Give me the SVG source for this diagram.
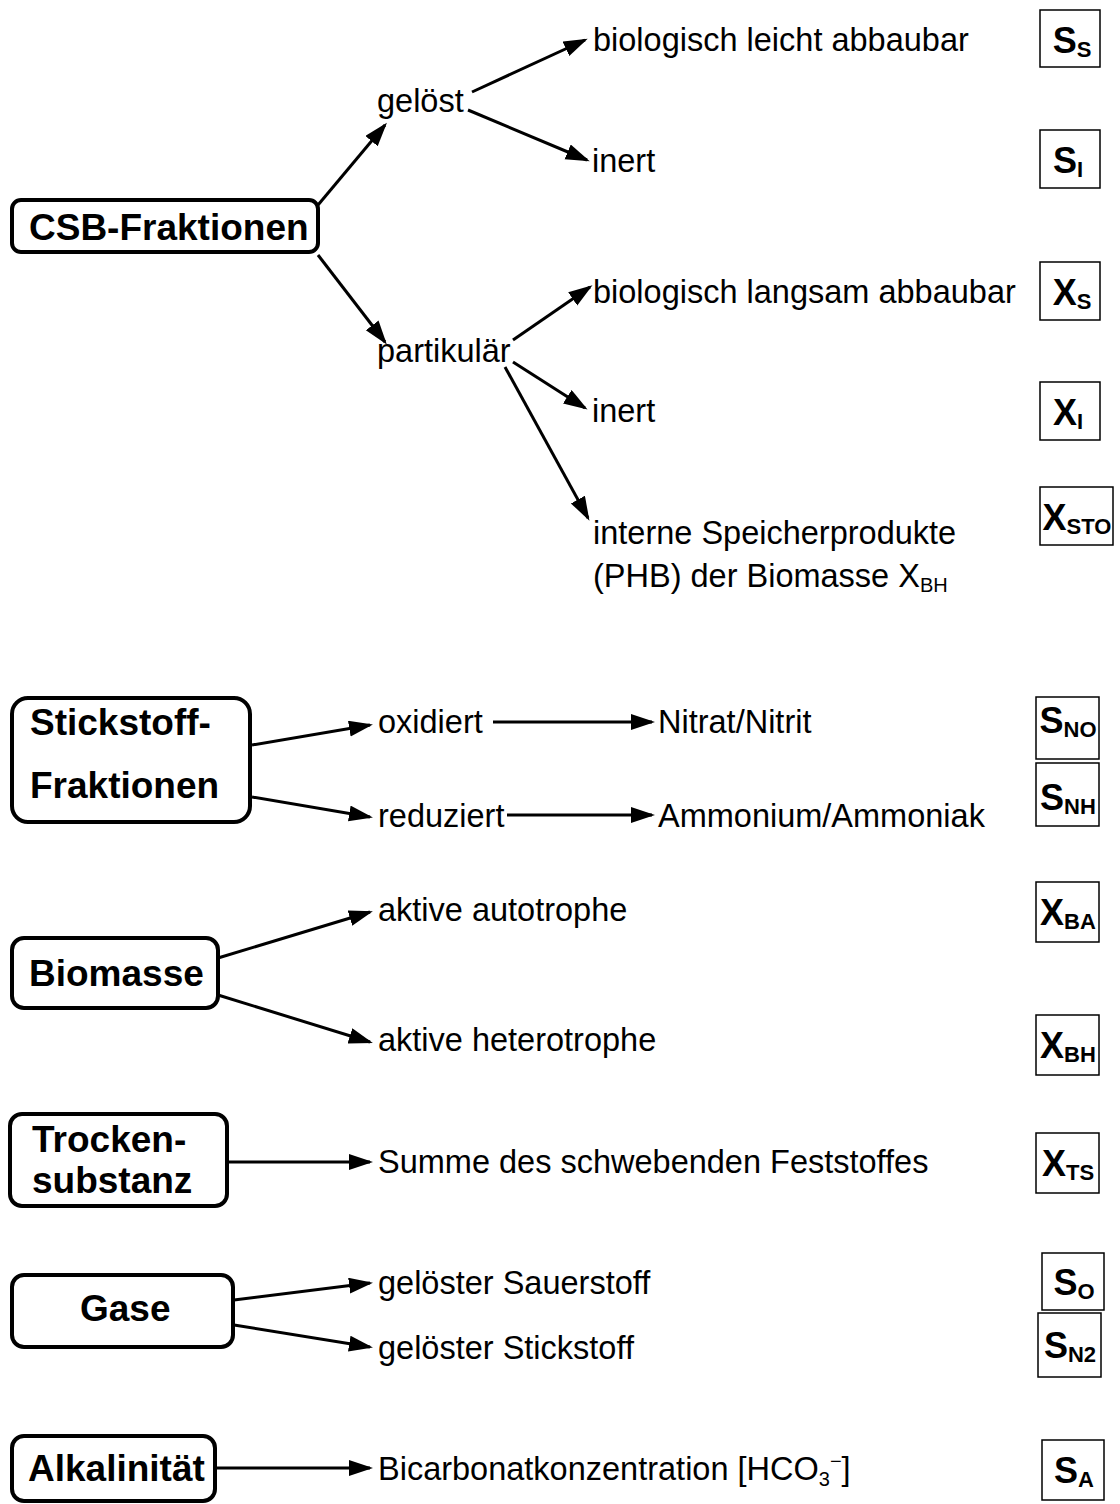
<svg xmlns="http://www.w3.org/2000/svg" width="1120" height="1504" viewBox="0 0 1120 1504">
<defs>
<marker id="ah" markerUnits="userSpaceOnUse" markerWidth="26" markerHeight="18" refX="21" refY="8" orient="auto">
<path d="M0,0 L24,8 L0,16 z" fill="#000"/>
</marker>
<style>
text{font-family:"Liberation Sans",Arial,Helvetica,sans-serif;fill:#000}
.t{font-size:32.5px}
.b{font-size:37px;font-weight:bold}
.node rect{fill:#fff;stroke:#000;stroke-width:4}
.sym rect{fill:#fff;stroke:#000;stroke-width:1.5}
.sym text{font-size:36px;font-weight:bold;text-anchor:middle}
.sub{font-size:22px}
.tsub{font-size:20px}
#connectors path{fill:none;stroke:#000;stroke-width:3;marker-end:url(#ah)}
</style>
</defs>
<rect width="1120" height="1504" fill="#fff"/>

<g id="connectors">
<path d="M318,205 L385,125"/>
<path d="M318,255 L385,342"/>
<path d="M472,92 L585,40"/>
<path d="M468,110 L587,160"/>
<path d="M513,340 L590,287"/>
<path d="M513,362 L585,408"/>
<path d="M505,367 L588,518"/>
<path d="M252,745 L370,725"/>
<path d="M252,797 L370,817"/>
<path d="M493,722 L652,722"/>
<path d="M507,815 L652,815"/>
<path d="M218,958 L370,912"/>
<path d="M218,995 L370,1042"/>
<path d="M227,1162 L370,1162"/>
<path d="M234,1300 L370,1283"/>
<path d="M234,1325 L370,1347"/>
<path d="M215,1468 L370,1468"/>
</g>

<g id="csb" class="node"><rect x="12" y="200" width="306" height="52" rx="9"/><text class="b" x="29" y="240">CSB-Fraktionen</text></g>
<g id="geloest"><text class="t" x="377" y="112">gelöst</text></g>
<g id="partikulaer"><text class="t" x="377" y="362">partikulär</text></g>
<g id="ss_text"><text class="t" x="593" y="51">biologisch leicht abbaubar</text></g>
<g id="si_text"><text class="t" x="592" y="172">inert</text></g>
<g id="xs_text"><text class="t" x="593" y="303">biologisch langsam abbaubar</text></g>
<g id="xi_text"><text class="t" x="592" y="422">inert</text></g>
<g id="xsto_text"><text class="t" x="593" y="544">interne Speicherprodukte</text><text class="t" x="593" y="587">(PHB) der Biomasse X<tspan class="tsub" dy="5">BH</tspan></text></g>

<g id="stickstoff" class="node"><rect x="12" y="698" width="238" height="124" rx="16"/><text class="b" x="30" y="735">Stickstoff-</text><text class="b" x="30" y="798">Fraktionen</text></g>
<g id="oxidiert"><text class="t" x="378" y="733">oxidiert</text></g>
<g id="reduziert"><text class="t" x="378" y="827">reduziert</text></g>
<g id="nitrat"><text class="t" x="658" y="733">Nitrat/Nitrit</text></g>
<g id="ammonium"><text class="t" x="658" y="827">Ammonium/Ammoniak</text></g>

<g id="biomasse" class="node"><rect x="12" y="938" width="206" height="70" rx="12"/><text class="b" x="29" y="986">Biomasse</text></g>
<g id="auto"><text class="t" x="378" y="921">aktive autotrophe</text></g>
<g id="hetero"><text class="t" x="378" y="1051">aktive heterotrophe</text></g>

<g id="trocken" class="node"><rect x="10" y="1114" width="217" height="92" rx="12"/><text class="b" x="32" y="1152">Trocken-</text><text class="b" x="32" y="1193">substanz</text></g>
<g id="summe"><text class="t" x="378" y="1173">Summe des schwebenden Feststoffes</text></g>

<g id="gase" class="node"><rect x="12" y="1275" width="221" height="72" rx="12"/><text class="b" x="80" y="1321">Gase</text></g>
<g id="sauerstoff"><text class="t" x="378" y="1294">gelöster Sauerstoff</text></g>
<g id="stickgas"><text class="t" x="378" y="1359">gelöster Stickstoff</text></g>

<g id="alkalinitaet" class="node"><rect x="12" y="1436" width="203" height="65" rx="12"/><text class="b" x="28" y="1481">Alkalinität</text></g>
<g id="bicarbonat"><text class="t" x="378" y="1480">Bicarbonatkonzentration [HCO<tspan class="tsub" dy="6">3</tspan><tspan class="tsub" dy="-18">−</tspan><tspan dy="12">]</tspan></text></g>

<g id="sym_SS" class="sym"><rect x="1040" y="10" width="60" height="57"/><text x="1072" y="53">S<tspan class="sub" dy="4">S</tspan></text></g>
<g id="sym_SI" class="sym"><rect x="1040" y="130" width="60" height="58"/><text x="1068" y="173">S<tspan class="sub" dy="4">I</tspan></text></g>
<g id="sym_XS" class="sym"><rect x="1040" y="262" width="60" height="58"/><text x="1072" y="305">X<tspan class="sub" dy="4">S</tspan></text></g>
<g id="sym_XI" class="sym"><rect x="1040" y="382" width="60" height="58"/><text x="1068" y="425">X<tspan class="sub" dy="4">I</tspan></text></g>
<g id="sym_XSTO" class="sym"><rect x="1040" y="487" width="73" height="58"/><text x="1077" y="530">X<tspan class="sub" dy="4">STO</tspan></text></g>
<g id="sym_SNO" class="sym"><rect x="1036" y="697" width="63" height="62"/><text x="1068" y="733">S<tspan class="sub" dy="4">NO</tspan></text></g>
<g id="sym_SNH" class="sym"><rect x="1036" y="763" width="63" height="63"/><text x="1068" y="810">S<tspan class="sub" dy="4">NH</tspan></text></g>
<g id="sym_XBA" class="sym"><rect x="1036" y="882" width="63" height="60"/><text x="1068" y="925">X<tspan class="sub" dy="4">BA</tspan></text></g>
<g id="sym_XBH" class="sym"><rect x="1036" y="1015" width="63" height="60"/><text x="1068" y="1058">X<tspan class="sub" dy="4">BH</tspan></text></g>
<g id="sym_XTS" class="sym"><rect x="1036" y="1133" width="63" height="60"/><text x="1068" y="1176">X<tspan class="sub" dy="4">TS</tspan></text></g>
<g id="sym_SO" class="sym"><rect x="1042" y="1253" width="62" height="57"/><text x="1074" y="1295">S<tspan class="sub" dy="4">O</tspan></text></g>
<g id="sym_SN2" class="sym"><rect x="1038" y="1313" width="63" height="64"/><text x="1070" y="1358">S<tspan class="sub" dy="4">N2</tspan></text></g>
<g id="sym_SA" class="sym"><rect x="1042" y="1440" width="62" height="60"/><text x="1074" y="1483">S<tspan class="sub" dy="4">A</tspan></text></g>
</svg>
